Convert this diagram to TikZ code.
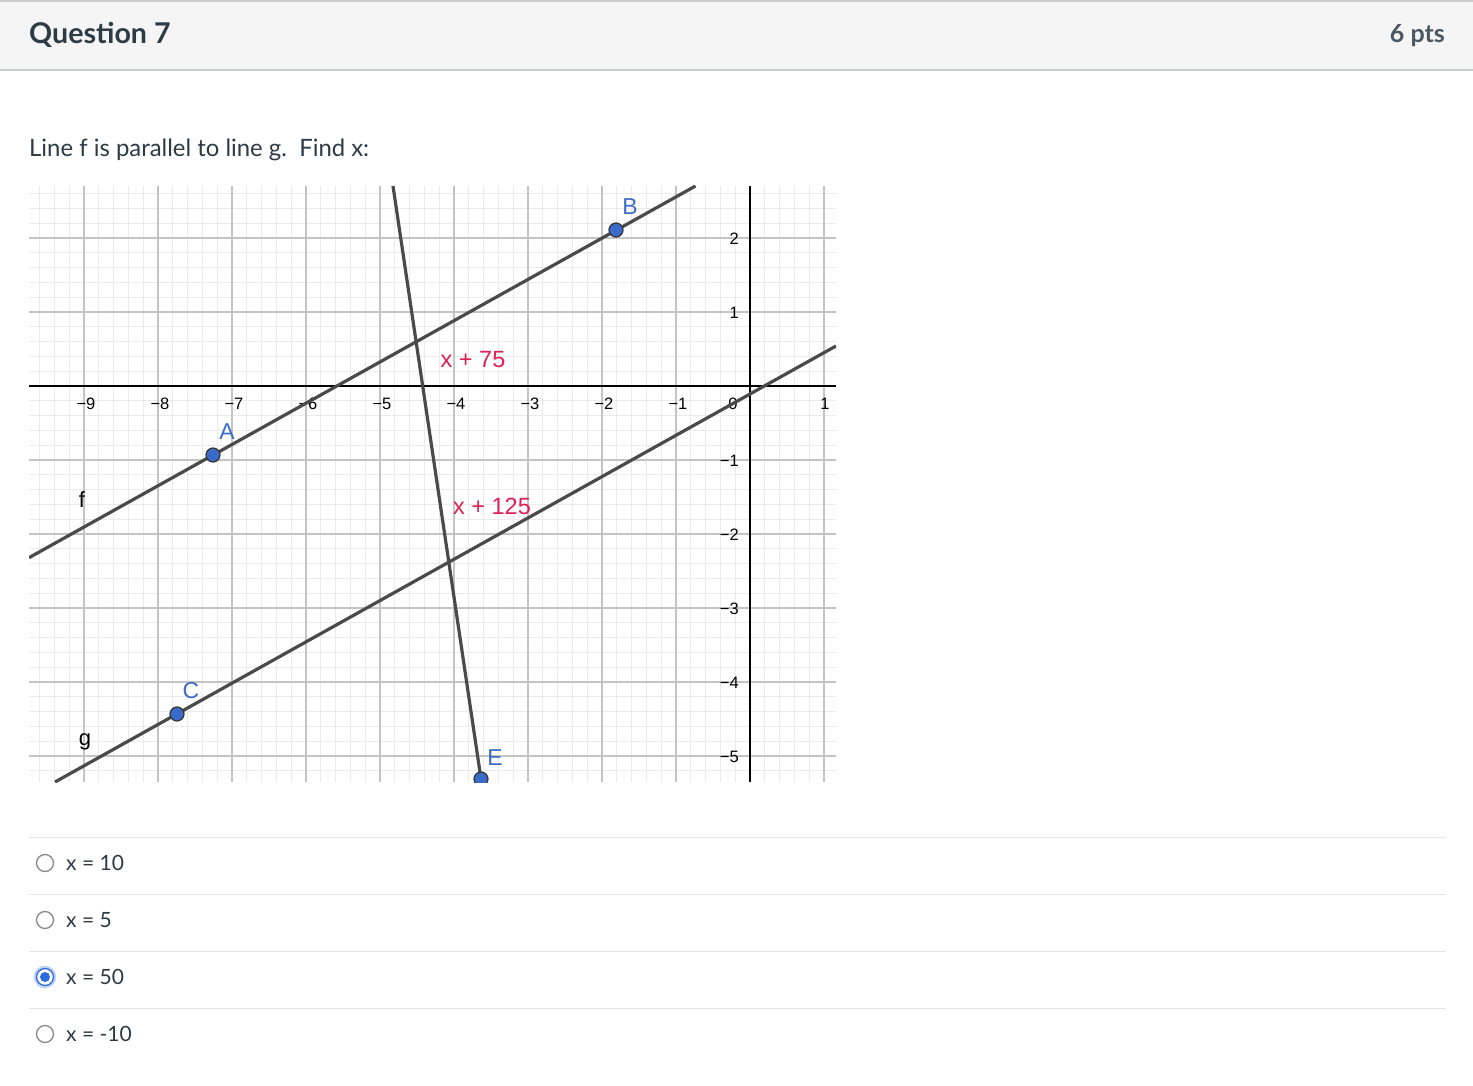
\documentclass[tikz,border=0pt]{standalone}
\usepackage{fontspec}
\setmainfont{Lato}
\newfontfamily\gfont{Liberation Sans}
\definecolor{txt}{HTML}{2D3B45}
\definecolor{hdrbg}{HTML}{F5F5F5}
\definecolor{hdrline}{HTML}{C7CDD1}
\definecolor{sepline}{HTML}{E4E6E8}
\definecolor{minorg}{HTML}{EBEBEB}
\definecolor{majorg}{HTML}{C4C4C4}
\definecolor{lineg}{HTML}{4A4A4A}
\definecolor{ptblue}{HTML}{3A6BC9}
\definecolor{lblblue}{HTML}{3C6DC5}
\definecolor{angred}{HTML}{DF1F55}
\definecolor{radiog}{HTML}{8A8A8A}
\definecolor{radioblue}{HTML}{2E6BDB}
\tikzset{
  geoline/.style={draw=lineg, line width=3.2pt},
  geopt/.style={circle, draw=black!80, fill=ptblue, line width=1.2pt, minimum size=14pt, inner sep=0pt},
  ptlabel/.style={font=\gfont\fontsize{23}{26}\selectfont, text=lblblue, inner sep=0pt},
  anglabel/.style={font=\gfont\fontsize{23.5}{26}\selectfont, text=angred, inner sep=0pt},
  linelabel/.style={font=\gfont\fontsize{22}{25}\selectfont, text=black, inner sep=0pt},
  ticklbl/.style={font=\gfont\fontsize{16.5}{19}\selectfont, text=black, inner sep=0pt},
  answer/.style={font=\fontsize{21}{24}\selectfont, text=txt, anchor=base west, inner sep=0pt},
  radiooff/.style={circle, draw=radiog, line width=1.3pt, minimum size=17pt, inner sep=0pt, fill=white},
  sep/.style={draw=sepline, line width=1pt}
}
\begin{document}
\begin{tikzpicture}[x=1pt,y=-1pt]
\useasboundingbox (0,0) rectangle (1473,1086);
\fill[white] (0,0) rectangle (1473,1086);
% header
\fill[hdrbg] (0,1) rectangle (1473,70);
\draw[hdrline, line width=1.2pt] (0,1) -- (1473,1);
\draw[hdrline, line width=1.2pt] (0,70) -- (1473,70);
\node[anchor=base west, inner sep=0pt, text=txt, font=\bfseries\fontsize{28.6}{32}\selectfont] (qtitle) at (29,44) {Question 7};
\node[anchor=base east, inner sep=0pt, text=txt!85, font=\bfseries\fontsize{25}{30}\selectfont] (pts) at (1445,43) {6 pts};
\node[anchor=base west, inner sep=0pt, text=txt, font=\fontsize{23.9}{27}\selectfont] (prompt) at (29,157) {Line f is parallel to line g.\ \ Find x:};
% graph
\begin{scope}
\clip (29,186) rectangle (836,782);
\foreach \k in {-49,...,6} \draw[minorg, line width=1pt] (750+14.8*\k,186) -- (750+14.8*\k,782);
\foreach \k in {-14,...,27} \draw[minorg, line width=1pt] (29,386+14.8*\k) -- (836,386+14.8*\k);
\foreach \k in {-9,...,1} \draw[majorg, line width=1.2pt] (750+74*\k,186) -- (750+74*\k,782);
\foreach \k in {-2,...,5} \draw[majorg, line width=1.2pt] (29,386+74*\k) -- (836,386+74*\k);
\end{scope}
\coordinate (xl) at (29,386); \coordinate (xr) at (836,386);
\coordinate (yt) at (750,186); \coordinate (yb) at (750,782);
\draw[black, line width=1.3pt] (xl) -- (xr);
\draw[black, line width=1.3pt] (yt) -- (yb);
% tick labels
\foreach \v/\lab in {-9/{−9},-8/{−8},-7/{−7},-6/{−6},-5/{−5},-4/{−4},-3/{−3},-2/{−2},-1/{−1}}
  \node[ticklbl] at (750+74*\v+2,404) {\lab};
\node[ticklbl] (t0) at (733,404) {0};
\node[ticklbl] (t1) at (825,404) {1};
\foreach \v/\lab in {2/2,1/1,-1/{−1},-2/{−2},-3/{−3},-4/{−4},-5/{−5}}
  \node[ticklbl, anchor=east] at (739,386-74*\v+1) {\lab};
% lines
\coordinate (f1) at (29,557.7);
\coordinate (f2) at (695.5,186);
\coordinate (g1) at (55,782);
\coordinate (g2) at (836,346);
\coordinate (h1) at (393,186);
\begin{scope}
\clip (29,186) rectangle (836,782);
\draw[geoline] (f1) -- (f2);
\draw[geoline] (g1) -- (g2);
\draw[geoline] (h1) -- (481,779);
\end{scope}
\node[geopt] (A) at (213,455) {};
\node[geopt] (B) at (616,230) {};
\node[geopt] (C) at (177,714) {};
\begin{scope}
\clip (29,186) rectangle (836,782);
\node[geopt] (E) at (481,779) {};
\end{scope}
\node[ptlabel] (lA) at (227,432) {A};
\node[ptlabel] (lB) at (630,207) {B};
\node[ptlabel] (lC) at (191,691) {C};
\node[ptlabel] (lE) at (495,758) {E};
\node[linelabel] (lf) at (82,500) {f};
\node[linelabel] (lg) at (85,742) {g};
\node[anglabel] (a1) at (473,360) {x + 75};
\node[anglabel] (a2) at (492,506) {x + 125};
% answers
\draw[sep] (29,837) -- (1446,837);
\draw[sep] (29,894) -- (1446,894);
\draw[sep] (29,951) -- (1446,951);
\draw[sep] (29,1008) -- (1446,1008);
\node[radiooff] (r1) at (45,863) {};
\node[radiooff] (r2) at (45,920) {};
\node[circle, draw=radioblue!30, line width=2.5pt, minimum size=20pt, inner sep=0pt] (r3h) at (45,977) {};
\node[circle, draw=radioblue, fill=white, line width=1.3pt, minimum size=17pt, inner sep=0pt] (r3) at (45,977) {};
\node[circle, fill=radioblue, minimum size=10pt, inner sep=0pt] (r3d) at (45,977) {};
\node[radiooff] (r4) at (45,1034) {};
\node[answer] (ans1) at (66,870) {x = 10};
\node[answer] (ans2) at (66,927) {x = 5};
\node[answer] (ans3) at (66,984) {x = 50};
\node[answer] (ans4) at (66,1041) {x = -10};
\end{tikzpicture}
\end{document}
